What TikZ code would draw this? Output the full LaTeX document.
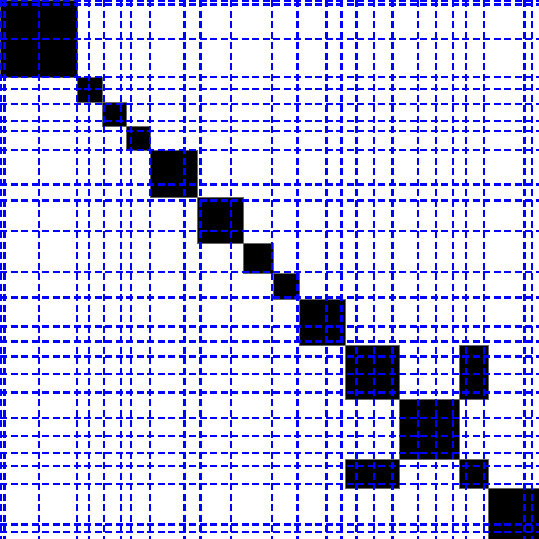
\documentclass[tikz,border=0pt]{standalone}
\begin{document}
\begin{tikzpicture}[x=1pt,y=-1pt,
  blockcell/.style={fill=black,draw=black!60,line width=0.8pt},
  gridline/.style={draw=blue,line width=2.6pt,dash pattern=on 7pt off 3.5pt}]
\useasboundingbox (0,0) rectangle (539,539);
\fill[white] (0,0) rectangle (539,539);
% diagonal blocks
\foreach \a/\b in {0/77,77/102,102/126,126/150,150/197,197/243,243/273,273/299,299/345,345/399,399/459,459/488,488/539}
  \draw[blockcell] (\a,\a) rectangle (\b,\b);
% off-diagonal blocks
\draw[blockcell] (459,345) rectangle (488,399);
\draw[blockcell] (345,459) rectangle (399,488);
% grid lines
\foreach \p in {1,4.5,39,77,89,104,121,131,150,184.7,200.7,231,272,297.7,326.7,341.5,356.7,374,392.7,418,436,453,466,484,524.7,532}{
  \draw[gridline] (\p,0) -- (\p,539);
  \draw[gridline] (0,\p) -- (539,\p);
}
\end{tikzpicture}
\end{document}
